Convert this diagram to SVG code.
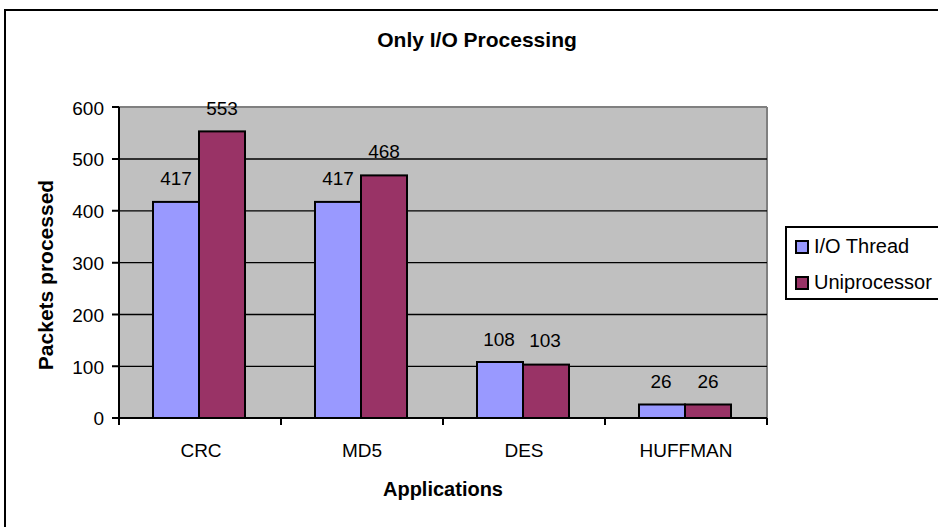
<svg xmlns="http://www.w3.org/2000/svg" width="938" height="527" viewBox="0 0 938 527">
<style>
text{font-family:"Liberation Sans",Arial,sans-serif;fill:#000}
.t{font-size:19px}
.l{font-size:20px}
.b{font-size:20px;font-weight:bold}
.b2{font-size:21px;font-weight:bold}
.grid{stroke:#000;stroke-width:1.3}
.bar1{fill:#9999FF;stroke:#000;stroke-width:2}
.bar2{fill:#993366;stroke:#000;stroke-width:2}
.ax{stroke:#000;stroke-width:2;fill:none}
</style>
<rect x="0" y="0" width="938" height="527" fill="#fff"/>
<rect x="5" y="10" width="945" height="530" fill="none" stroke="#000" stroke-width="2"/>
<text class="b2" x="477" y="47" text-anchor="middle">Only I/O Processing</text>
<g id="plot">
<rect x="119" y="107" width="648" height="311" fill="#C0C0C0"/>
<line x1="119" y1="107" x2="767" y2="107" stroke="#808080" stroke-width="2"/>
<line x1="767" y1="107" x2="767" y2="418" stroke="#808080" stroke-width="2"/>
<g class="grid">
<line x1="119" y1="159" x2="767" y2="159"/>
<line x1="119" y1="210.8" x2="767" y2="210.8"/>
<line x1="119" y1="262.7" x2="767" y2="262.7"/>
<line x1="119" y1="314.5" x2="767" y2="314.5"/>
<line x1="119" y1="366.3" x2="767" y2="366.3"/>
</g>
</g>
<g id="bars">
<rect class="bar1" x="153" y="201.9" width="46" height="216.1"/>
<rect class="bar2" x="199" y="131.4" width="46" height="286.6"/>
<rect class="bar1" x="315" y="201.9" width="46" height="216.1"/>
<rect class="bar2" x="361" y="175.4" width="46" height="242.6"/>
<rect class="bar1" x="477" y="362" width="46" height="56"/>
<rect class="bar2" x="523" y="364.6" width="46" height="53.4"/>
<rect class="bar1" x="639" y="404.5" width="46" height="13.5"/>
<rect class="bar2" x="685" y="404.5" width="46" height="13.5"/>
</g>
<g id="labels" class="t" text-anchor="middle">
<text x="176" y="185">417</text>
<text x="222" y="115">553</text>
<text x="338" y="185">417</text>
<text x="384" y="158">468</text>
<text x="499" y="346">108</text>
<text x="545" y="347">103</text>
<text x="661" y="388">26</text>
<text x="708" y="388">26</text>
</g>
<g id="axes">
<path class="ax" d="M119 107 V418 H767"/>
<path class="ax" d="M112 107 H119 M112 159 H119 M112 210.8 H119 M112 262.7 H119 M112 314.5 H119 M112 366.3 H119 M112 418 H119"/>
<path class="ax" d="M119 418 V425 M281 418 V425 M443 418 V425 M605 418 V425 M767 418 V425"/>
<g class="t" text-anchor="end">
<text x="104" y="115">600</text>
<text x="104" y="166">500</text>
<text x="104" y="218">400</text>
<text x="104" y="270">300</text>
<text x="104" y="322">200</text>
<text x="104" y="374">100</text>
<text x="104" y="425">0</text>
</g>
<g class="t" text-anchor="middle">
<text x="201" y="457">CRC</text>
<text x="362" y="457">MD5</text>
<text x="524" y="457">DES</text>
<text x="686" y="457">HUFFMAN</text>
</g>
<text class="b" x="443" y="496" text-anchor="middle">Applications</text>
<text class="b2" transform="translate(53 275) rotate(-90)" text-anchor="middle">Packets processed</text>
</g>
<g id="legend">
<rect x="786" y="227" width="160" height="72" fill="#fff" stroke="#000" stroke-width="2"/>
<rect class="bar1" x="796" y="241" width="12" height="12" stroke-width="2"/>
<rect class="bar2" x="796" y="277" width="12" height="12" stroke-width="2"/>
<text class="l" x="814" y="253">I/O Thread</text>
<text class="l" x="814" y="289">Uniprocessor</text>
</g>
</svg>
